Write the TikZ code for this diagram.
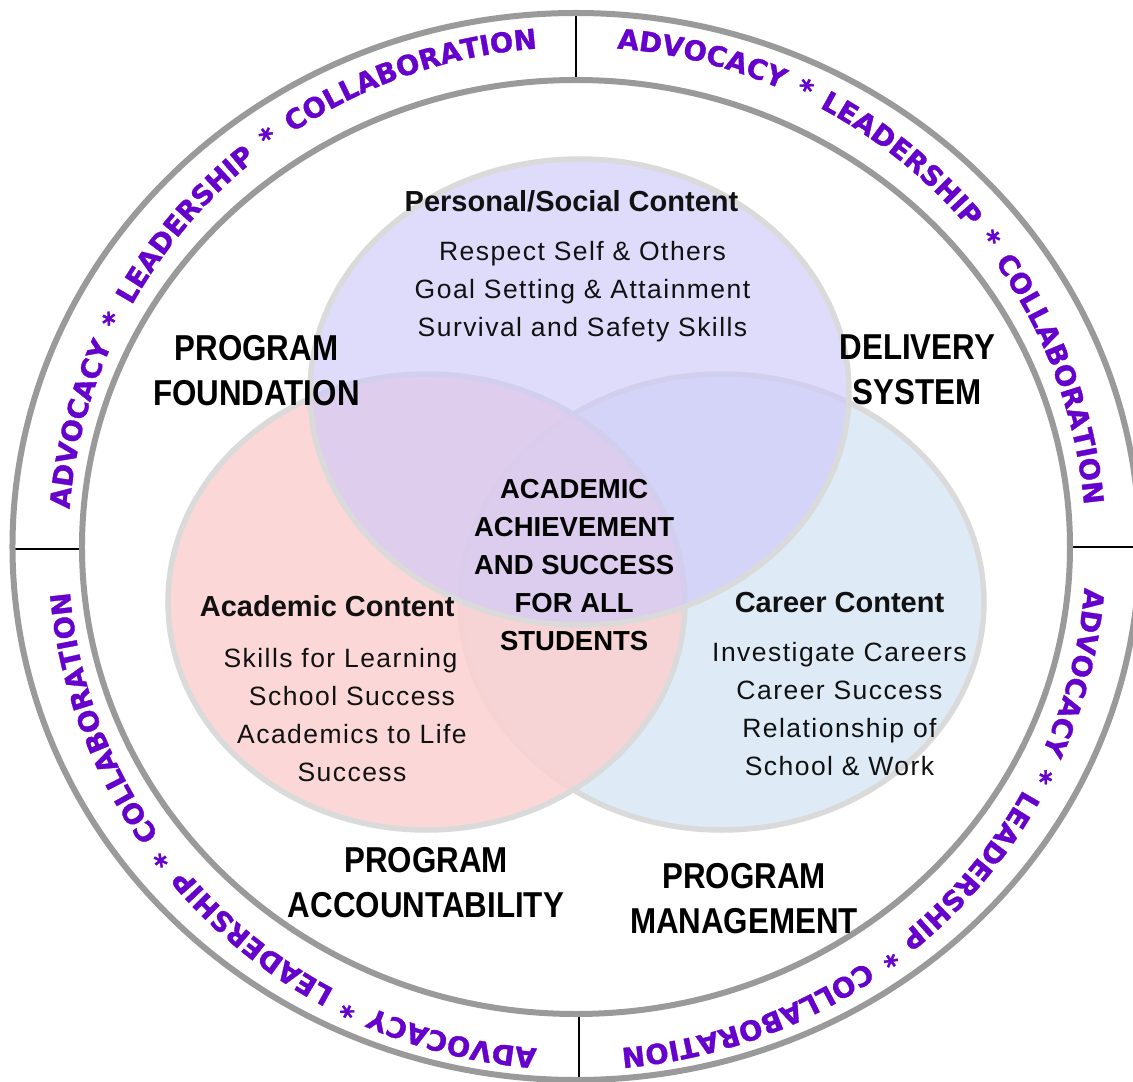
\documentclass[tikz,border=0pt]{standalone}
\usepackage{fontspec}
\setmainfont{Liberation Sans}
\newfontfamily\bodyfam[LetterSpace=5.5]{Liberation Sans}
\newfontfamily\condfam[FakeStretch=0.87]{Liberation Sans}
\newfontfamily\ringfam[BoldFeatures={FakeBold=1.2}]{DejaVu Sans}
\usetikzlibrary{decorations.text}
\definecolor{ringgray}{HTML}{9A9A9A}
\definecolor{ringpurple}{HTML}{6600CC}
\definecolor{topfill}{HTML}{CFC9FA}
\definecolor{pinkfill}{HTML}{FBD1D1}
\definecolor{bluefill}{HTML}{DEEBF7}
\definecolor{venngray}{HTML}{DADADA}
\definecolor{inktext}{HTML}{111111}
\newcommand\ringfont{\ringfam\bfseries\fontsize{27.5}{27.5}\selectfont}
\begin{document}
\begin{tikzpicture}[x=1pt,y=1pt,
  ringline/.style={draw=ringgray, line width=6pt},
  divider/.style={draw=black, line width=1.6pt},
  vennline/.style={draw=venngray, line width=5.5pt},
  hdr/.style={font=\bfseries\fontsize{29}{34}\selectfont, text=inktext, inner sep=0pt, anchor=base},
  bodytxt/.style={font=\bodyfam\fontsize{26.5}{38}\selectfont, text=inktext, align=center, inner sep=0pt},
  coretxt/.style={font=\bfseries\fontsize{27.5}{37.8}\selectfont, text=black, align=center, inner sep=0pt},
  zone/.style={font=\condfam\bfseries\fontsize{36}{45}\selectfont, text=black, align=center, inner sep=0pt},
  ringword/.style={decorate, decoration={text along path,
      text={|\ringfont|ADVOCACY * LEADERSHIP * COLLABORATION},
      text align=fit to path stretching spaces, text color=ringpurple}}
]
\useasboundingbox (-576,-535) rectangle (557,547);
\fill[white] (-576,-535) rectangle (557,547);
\clip (-576,-535) rectangle (557,547);

% ring dividers
\coordinate (dtopin) at (0,467);   \coordinate (dtopout) at (0,534);
\coordinate (dbotin) at (3,-467);  \coordinate (dbotout) at (3,-533);
\coordinate (dleftin) at (-494,-2); \coordinate (dleftout) at (-563.5,-2);
\coordinate (drightin) at (494,0);  \coordinate (drightout) at (570,0);
\draw[divider] (dtopin) -- (dtopout);
\draw[divider] (dbotin) -- (dbotout);
\draw[divider] (dleftin) -- (dleftout);
\draw[divider] (drightin) -- (drightout);

% ring
\path[ringline] (0,0.5) ellipse [x radius=563.5pt, y radius=533.5pt];
\path[ringline] (0,0) ellipse [x radius=494pt, y radius=467pt];

% ring text
\begin{scope}[shift={(1,-1.5)}]
\foreach \s/\e in {175.5/94.5, 85.5/5, -4.5/-85, -94.5/-175}{
  \path[ringword] (\s:509pt and 501.5pt) arc[start angle=\s, end angle=\e, x radius=509pt, y radius=501.5pt];
}
\end{scope}

% venn
\path[fill=bluefill] (146,-55) ellipse [x radius=262pt, y radius=228pt];
\path[vennline] (146,-55) ellipse [x radius=262pt, y radius=228pt];
\path[fill=pinkfill, fill opacity=0.85] (-149.5,-55) ellipse [x radius=258.5pt, y radius=228pt];
\path[vennline] (-149.5,-55) ellipse [x radius=258.5pt, y radius=228pt];
\path[fill=topfill, fill opacity=0.65] (3.5,155) ellipse [x radius=269.5pt, y radius=233pt];
\path[vennline] (3.5,155) ellipse [x radius=269.5pt, y radius=233pt];

% texts
\node[hdr] (pshead) at (-4.5,335.3) {Personal/Social Content};
\node[bodytxt] (psbody) at (6.5,255.2) {Respect Self \& Others\\Goal Setting \& Attainment\\Survival and Safety Skills};
\node[hdr] (achead) at (-248.8,-69.8) {Academic Content};
\node[bodytxt] (acbody) at (-224,-168.2) {Skills for Learning\hspace*{23pt}\\School Success\\Academics to Life\\Success};
\node[hdr] (cchead) at (263.5,-65.5) {Career Content};
\node[bodytxt] (ccbody) at (263.5,-162.2) {Investigate Careers\\Career Success\\Relationship of\\School \& Work};
\node[coretxt] (core) at (-1.8,-18) {ACADEMIC\\ACHIEVEMENT\\AND SUCCESS\\FOR ALL\\STUDENTS};
\node[zone] (found) at (-319.6,176.2) {PROGRAM\\FOUNDATION};
\node[zone] (deliv) at (341.3,176.9) {DELIVERY\\SYSTEM};
\node[zone] (accnt) at (-150,-335.5) {PROGRAM\\ACCOUNTABILITY};
\node[zone] (mgmt) at (168,-351.5) {PROGRAM\\MANAGEMENT};
\end{tikzpicture}
\end{document}
